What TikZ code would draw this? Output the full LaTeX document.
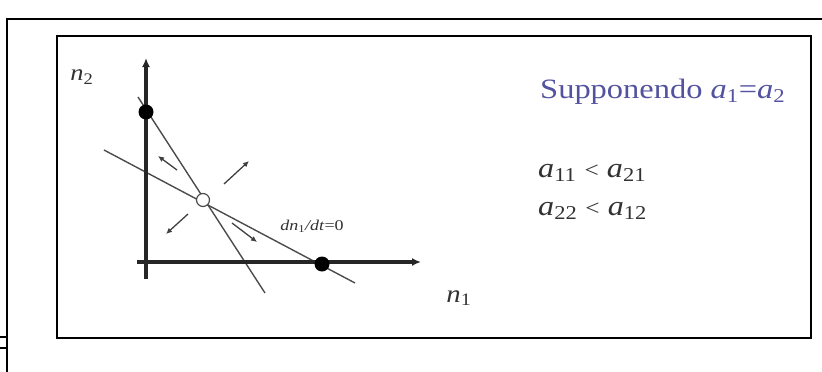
\documentclass[tikz,border=0pt]{standalone}
\usepackage{fontspec}
\setmainfont{Liberation Serif}
\usetikzlibrary{arrows.meta}
\definecolor{suppblue}{RGB}{82,82,160}
\definecolor{txtgray}{RGB}{50,50,50}
\newcommand{\va}[1]{\textit{a}\textsubscript{#1}}
\begin{document}
\begin{tikzpicture}[x=1pt,y=-1pt,
  frameline/.style={line width=2.8pt,black},
  stubline/.style={line width=2pt,black},
  axisline/.style={line width=3.6pt,black!85,-{Latex[length=9pt,width=8pt]}},
  curveline/.style={line width=1.4pt,black!70},
  dirarrow/.style={line width=1.3pt,black!75,-{Latex[length=6pt,width=5.5pt]}},
  dotnode/.style={circle,fill=black,inner sep=0pt,minimum size=15pt},
  eqnode/.style={circle,draw=black!70,fill=white,line width=1.2pt,inner sep=0pt,minimum size=13pt},
  lbl/.style={inner sep=0pt,text=txtgray}]
\useasboundingbox (0,0) rectangle (822,372);
% outer frame pieces
\coordinate (ftl) at (7,19);
\coordinate (ftr) at (822,19);
\coordinate (fbl) at (7,372);
\draw[frameline,line cap=rect] (ftr) -- (ftl) -- (fbl);
\coordinate (sa1) at (0,337); \coordinate (sa2) at (7,337);
\coordinate (sb1) at (0,348); \coordinate (sb2) at (7,348);
\draw[stubline] (sa1) -- (sa2);
\draw[stubline] (sb1) -- (sb2);
% inner box
\node[draw,frameline,minimum width=754pt,minimum height=302pt,inner sep=0pt] (box) at (434,187) {};
% isoclines
\coordinate (s1) at (138,97);
\coordinate (s2) at (265,293);
\coordinate (l1) at (104,150);
\coordinate (l2) at (355,283);
\draw[curveline] (s1) -- (s2);
\draw[curveline] (l1) -- (l2);
% axes
\coordinate (vb) at (146,279);
\coordinate (vt) at (146,58);
\coordinate (hl) at (137,262);
\coordinate (hr) at (421,262);
\draw[axisline] (vb) -- (vt);
\draw[axisline] (hl) -- (hr);
% points
\node[dotnode] (p2) at (146,112) {};
\node[dotnode] (p1) at (322,264) {};
\node[eqnode] (eq) at (203,200) {};
% direction arrows
\coordinate (a1s) at (177,170); \coordinate (a1e) at (158,156);
\coordinate (a2s) at (224,184); \coordinate (a2e) at (249,161);
\coordinate (a3s) at (188,214); \coordinate (a3e) at (166,234);
\coordinate (a4s) at (232,223); \coordinate (a4e) at (257,242);
\draw[dirarrow] (a1s) -- (a1e);
\draw[dirarrow] (a2s) -- (a2e);
\draw[dirarrow] (a3s) -- (a3e);
\draw[dirarrow] (a4s) -- (a4e);
% labels
\node[lbl,font=\fontsize{23}{25}\selectfont] (ln2) at (82,77) {\scalebox{1.15}[1]{\textit{n}\textsubscript{2}}};
\node[lbl,font=\fontsize{25}{27}\selectfont] (ln1) at (459,298) {\scalebox{1.15}[1]{\textit{n}\textsubscript{1}}};
\node[lbl,font=\fontsize{15}{17}\selectfont] (liso) at (312,226) {\scalebox{1.2}[1]{\textit{dn}\textsubscript{1}\textit{/dt}=0}};
\node[lbl,anchor=base west,text=suppblue,font=\fontsize{28}{30}\selectfont] (supp) at (540,98) {\scalebox{1.16}[1]{Supponendo \va{1}=\va{2}}};
\node[lbl,anchor=base west,font=\fontsize{28}{30}\selectfont] (c1) at (538,177) {\scalebox{1.15}[1]{\va{11} {\fontsize{22}{24}\selectfont<} \va{21}}};
\node[lbl,anchor=base west,font=\fontsize{28}{30}\selectfont] (c2) at (538,215) {\scalebox{1.15}[1]{\va{22} {\fontsize{22}{24}\selectfont<} \va{12}}};
\end{tikzpicture}
\end{document}
